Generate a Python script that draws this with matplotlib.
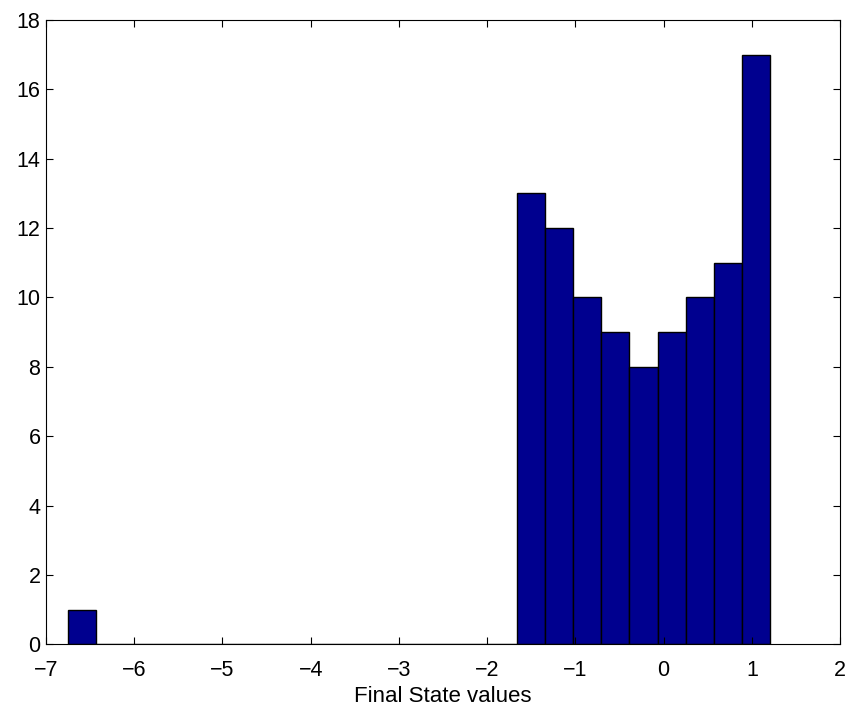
import numpy as np
import matplotlib
matplotlib.use("Agg")
import matplotlib.pyplot as plt

plt.rcParams['font.family'] = ['Liberation Sans', 'DejaVu Sans']

# Histogram of final state values: 25 equal bins between the data min and max
x_min = -6.747
x_max = 1.203
counts = [1, 0, 0, 0, 0, 0, 0, 0, 0, 0, 0, 0, 0, 0, 0, 0,
          13, 12, 10, 9, 8, 9, 10, 11, 17]
x_label = "Final State values"
x_ticks = [-7, -6, -5, -4, -3, -2, -1, 0, 1, 2]
y_ticks = [0, 2, 4, 6, 8, 10, 12, 14, 16, 18]

edges = np.linspace(x_min, x_max, len(counts) + 1)
widths = np.diff(edges)

fig = plt.figure(figsize=(8.52, 7.13), dpi=100)
ax = fig.add_axes([0.054, 0.0963, 0.932, 0.8757])

ax.bar(edges[:-1], counts, width=widths, align='edge',
       color='#00008F', edgecolor='black', linewidth=1.0)

ax.set_xlim(-7, 2)
ax.set_ylim(0, 18)
ax.set_xticks(x_ticks)
ax.set_yticks(y_ticks)
ax.set_xticklabels([f"\u2212{-t}" if t < 0 else str(t) for t in x_ticks])
ax.tick_params(direction='in', top=True, right=True, labelsize=15.5,
               length=5, width=0.8)
ax.tick_params(axis='x', pad=11)
ax.tick_params(axis='y', pad=4)
for s in ax.spines.values():
    s.set_linewidth(0.8)
ax.set_xlabel(x_label, fontsize=16, labelpad=4)

fig.savefig("out.png", dpi=100)
